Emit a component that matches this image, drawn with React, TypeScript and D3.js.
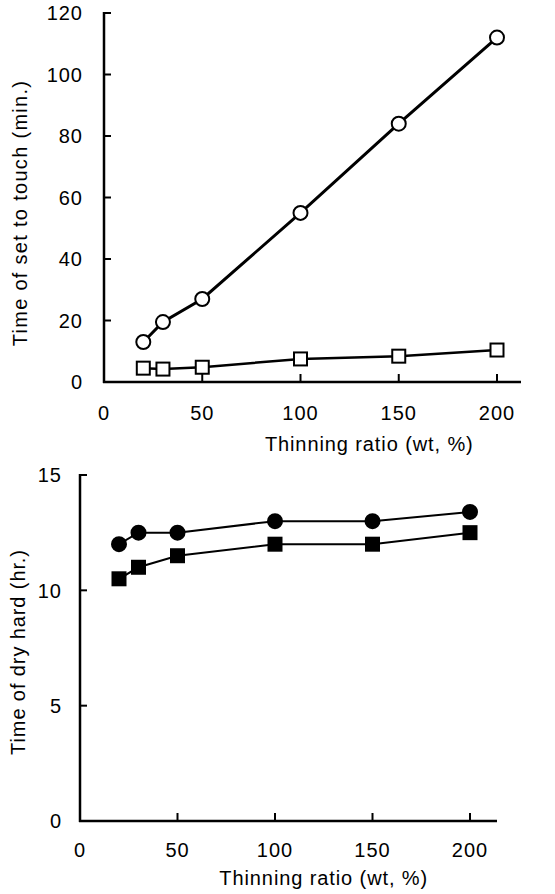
import * as d3 from "d3";

const ratios = [20, 30, 50, 100, 150, 200];
const setTouchCircle = [13, 19.5, 27, 55, 84, 112];
const setTouchSquare = [4.5, 4.2, 4.8, 7.5, 8.4, 10.4];
const dryHardCircle = [12, 12.5, 12.5, 13, 13, 13.4];
const dryHardSquare = [10.5, 11, 11.5, 12, 12, 12.5];
const xTicks = [0, 50, 100, 150, 200];
const topYTicks = [0, 20, 40, 60, 80, 100, 120];
const bottomYTicks = [0, 5, 10, 15];
const xTitle = "Thinning ratio (wt, %)";

const font = "'Liberation Sans', Arial, sans-serif";

type PanelProps = {
  x0: number;
  x200: number;
  xEnd: number;
  yBottom: number;
  yTop: number;
  yMax: number;
  yTicks: number[];
  labelGap: number;
  tickLabelY: number;
  titleX: number;
  titleY: number;
  yTitle: string;
  yTitlePos: [number, number];
  yTitleSpacing: number;
  series: { values: number[]; shape: "circle" | "square"; filled: boolean; width: number }[];
};

function Panel(props: PanelProps) {
  const {
    x0, x200, xEnd, yBottom, yTop, yMax, yTicks, labelGap, tickLabelY,
    titleX, titleY, yTitle, yTitlePos, yTitleSpacing, series,
  } = props;
  const x = d3.scaleLinear().domain([0, 200]).range([x0, x200]);
  const y = d3.scaleLinear().domain([0, yMax]).range([yBottom, yTop]);
  const line = d3
    .line<number>()
    .x((_, i) => x(ratios[i]))
    .y((d) => y(d));

  return (
    <g fontFamily={font} fill="#000">
      {/* axes */}
      <line x1={x0} x2={x0} y1={yTop - 1} y2={yBottom + 1} stroke="#000" strokeWidth={2.5} />
      <line x1={x0 - 1} x2={xEnd} y1={yBottom} y2={yBottom} stroke="#000" strokeWidth={2.5} />
      {yTicks.map((t) => (
        <g key={"y" + t}>
          {t > 0 && <line x1={x0} x2={x0 + 7} y1={y(t)} y2={y(t)} stroke="#000" strokeWidth={2} />}
          <text x={x0 - labelGap} y={y(t)} dy="0.36em" textAnchor="end" fontSize={20} letterSpacing={1}>
            {t}
          </text>
        </g>
      ))}
      {xTicks.map((t) => (
        <g key={"x" + t}>
          {t > 0 && <line x1={x(t)} x2={x(t)} y1={yBottom} y2={yBottom - 8} stroke="#000" strokeWidth={2} />}
          <text x={x(t)} y={tickLabelY} textAnchor="middle" fontSize={20} letterSpacing={1}>
            {t}
          </text>
        </g>
      ))}
      <text x={x(titleX)} y={titleY} textAnchor="middle" fontSize={20} letterSpacing={0.9}>
        {xTitle}
      </text>
      <text
        transform={`translate(${yTitlePos[0]},${yTitlePos[1]}) rotate(-90)`}
        textAnchor="middle"
        dy="0.36em"
        fontSize={20}
        letterSpacing={yTitleSpacing}
      >
        {yTitle}
      </text>
      {/* series */}
      {series.map((s, si) => (
        <g key={si}>
          <path d={line(s.values) || ""} fill="none" stroke="#000" strokeWidth={s.width} />
          {s.values.map((v, i) =>
            s.shape === "circle" ? (
              <circle
                key={i}
                cx={x(ratios[i])}
                cy={y(v)}
                r={7}
                fill={s.filled ? "#000" : "#fff"}
                stroke="#000"
                strokeWidth={2}
              />
            ) : (
              <rect
                key={i}
                x={x(ratios[i]) - 6.5}
                y={y(v) - 6.5}
                width={13}
                height={13}
                fill={s.filled ? "#000" : "#fff"}
                stroke="#000"
                strokeWidth={2}
              />
            )
          )}
        </g>
      ))}
    </g>
  );
}

export default function App() {
  return (
    <svg width={555} height={894} style={{ position: "absolute", left: 0, top: 0, background: "#fff" }}>
      <rect width={555} height={894} fill="#fff" />
      <Panel
        x0={104}
        x200={497}
        xEnd={521}
        yBottom={382}
        yTop={13}
        yMax={120}
        yTicks={topYTicks}
        labelGap={21}
        tickLabelY={420}
        titleX={135}
        titleY={451}
        yTitle="Time of set to touch (min.)"
        yTitlePos={[20, 213]}
        yTitleSpacing={1.3}
        series={[
          { values: setTouchCircle, shape: "circle", filled: false, width: 3 },
          { values: setTouchSquare, shape: "square", filled: false, width: 2.5 },
        ]}
      />
      <Panel
        x0={80}
        x200={470}
        xEnd={497}
        yBottom={821}
        yTop={475}
        yMax={15}
        yTicks={bottomYTicks}
        labelGap={18}
        tickLabelY={857}
        titleX={125}
        titleY={885}
        yTitle="Time of dry hard (hr.)"
        yTitlePos={[18, 652]}
        yTitleSpacing={0.9}
        series={[
          { values: dryHardCircle, shape: "circle", filled: true, width: 2 },
          { values: dryHardSquare, shape: "square", filled: true, width: 2 },
        ]}
      />
    </svg>
  );
}
